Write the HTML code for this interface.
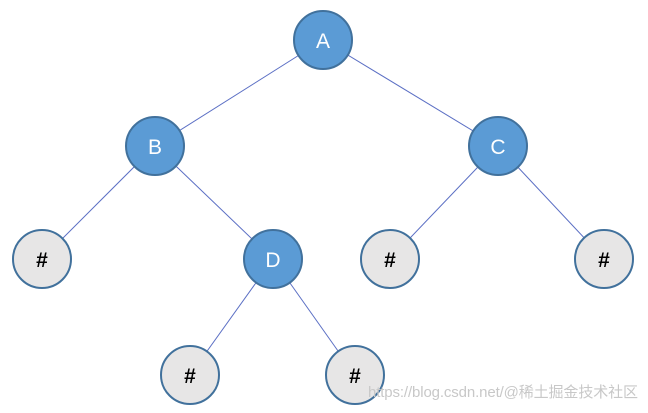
<!DOCTYPE html>
<html><head><meta charset="utf-8"><style>
html,body{margin:0;padding:0;background:#fff;width:648px;height:413px;overflow:hidden}
</style></head><body>
<svg width="648" height="413" xmlns="http://www.w3.org/2000/svg" style="display:block">
<g stroke="#5b6fc4" stroke-width="1">
<line x1="323" y1="40" x2="155" y2="146"/>
<line x1="323" y1="40" x2="498" y2="146"/>
<line x1="155" y1="146" x2="42" y2="259"/>
<line x1="155" y1="146" x2="273" y2="259"/>
<line x1="498" y1="146" x2="390" y2="259"/>
<line x1="498" y1="146" x2="604" y2="259"/>
<line x1="273" y1="259" x2="190" y2="375"/>
<line x1="273" y1="259" x2="355" y2="375"/>
</g>
<g stroke="#41719c" stroke-width="2">
<circle cx="323" cy="40" r="29" fill="#5b9bd5"/>
<circle cx="155" cy="146" r="29" fill="#5b9bd5"/>
<circle cx="498" cy="146" r="29" fill="#5b9bd5"/>
<circle cx="273" cy="259" r="29" fill="#5b9bd5"/>
<circle cx="42" cy="259" r="29" fill="#e7e6e6"/>
<circle cx="390" cy="259" r="29" fill="#e7e6e6"/>
<circle cx="604" cy="259" r="29" fill="#e7e6e6"/>
<circle cx="190" cy="375" r="29" fill="#e7e6e6"/>
<circle cx="355" cy="375" r="29" fill="#e7e6e6"/>
</g>
<g font-family="Liberation Sans, sans-serif" font-size="21" text-anchor="middle" fill="#fff">
<text x="323" y="48">A</text>
<text x="155" y="154">B</text>
<text x="498" y="154">C</text>
<text x="273" y="267">D</text>
</g>
<g font-family="Liberation Sans, sans-serif" font-size="21" font-weight="bold" text-anchor="middle" fill="#000">
<text x="42" y="267">#</text>
<text x="390" y="267">#</text>
<text x="604" y="267">#</text>
<text x="190" y="383">#</text>
<text x="355" y="383">#</text>
</g>
<text x="368" y="397" font-family="Liberation Sans, 'Noto Sans CJK SC', sans-serif" font-size="15" fill="#c8c8c8" textLength="270">https://blog.csdn.net/@稀土掘金技术社区</text>
</svg>
</body></html>
